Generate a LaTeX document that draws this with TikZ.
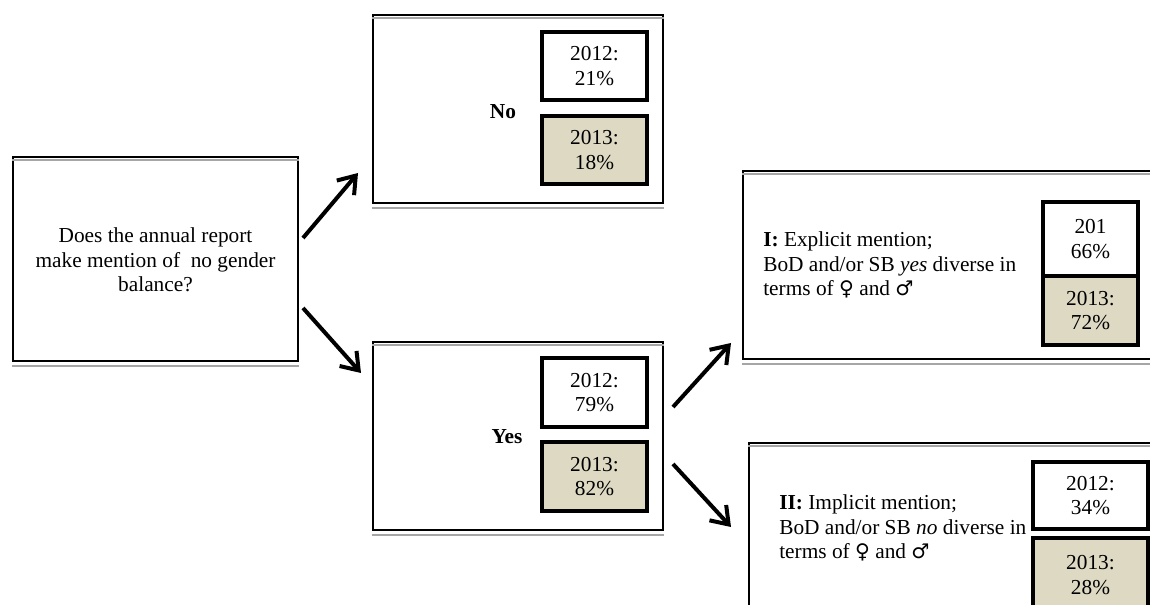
\documentclass[tikz,border=0pt]{standalone}
\usepackage{fontspec}
\setmainfont{Liberation Serif}
\newfontfamily\symf{DejaVu Sans}[Scale=0.95]
\usetikzlibrary{arrows.meta}
\definecolor{tanfill}{HTML}{DDD9C3}
\definecolor{shadeline}{HTML}{A6A6A6}
\newcommand{\fem}{{\symf ♀}}
\newcommand{\mal}{{\symf ♂}}
\tikzset{
  bigbox/.style={draw=black, line width=1.6pt, fill=white, inner sep=0pt},
  pctbox/.style={draw=black, line width=3pt, inner sep=0pt, align=center,
                 font=\fontsize{16}{18.5}\selectfont},
  pctwhite/.style={pctbox, fill=white},
  pcttan/.style={pctbox, fill=tanfill},
  shadow/.style={draw=shadeline, line width=1.4pt},
  arr/.style={line width=3pt, -{Straight Barb[length=12pt,width=17pt]}},
  txt/.style={font=\fontsize{16}{18.5}\selectfont, inner sep=0pt},
  lbl/.style={font=\fontsize{16}{18.5}\selectfont\bfseries, inner sep=0pt}
}
\begin{document}
\begin{tikzpicture}[x=0.75pt,y=-0.75pt]
\useasboundingbox (0,0) rectangle (1150,605);

% question box
\node[bigbox, minimum width=213.75pt, minimum height=153pt] (q) at (155.5,259) {};
\node[txt, align=center] (qt) at (155.5,260) {Does the annual report\\make mention of\ \ no gender\\balance?};

% No box
\node[bigbox, minimum width=217.5pt, minimum height=141pt] (no) at (518,109) {};
\node[pctwhite, minimum width=78.75pt, minimum height=51pt] (n12) at (594.5,66) {2012:\\21\%};
\node[pcttan, minimum width=78.75pt, minimum height=51pt] (n13) at (594.5,150) {2013:\\18\%};
\node[lbl] (nol) at (503,112) {No};

% Yes box
\node[bigbox, minimum width=217.5pt, minimum height=141pt] (yes) at (518,436) {};
\node[pctwhite, minimum width=78.75pt, minimum height=51.75pt] (y12) at (594.5,392.5) {2012:\\79\%};
\node[pcttan, minimum width=78.75pt, minimum height=51.75pt] (y13) at (594.5,476.5) {2013:\\82\%};
\node[lbl] (yesl) at (507,437) {Yes};

% Box I
\node[bigbox, minimum width=316.5pt, minimum height=141pt] (b1) at (954,265) {};
\node[txt, anchor=west, align=left] (b1t) at (763,265)
  {\textbf{I:} Explicit mention;\\BoD and/or SB \textit{yes} diverse in\\terms of \fem{} and \mal};
\node[pctwhite, minimum width=71.25pt, minimum height=55.5pt] (i12) at (1090.5,239) {201\\66\%};
\node[pcttan, minimum width=71.25pt, minimum height=51.75pt] (i13) at (1090.5,310.5) {2013:\\72\%};

% Box II
\node[bigbox, minimum width=312pt, minimum height=141pt] (b2) at (957,537) {};
\node[txt, anchor=west, align=left] (b2t) at (779,528)
  {\textbf{II:} Implicit mention;\\BoD and/or SB \textit{no} diverse in\\terms of \fem{} and \mal};
\node[pctwhite, minimum width=86.25pt, minimum height=50.25pt] (ii12) at (1090.5,495.5) {2012:\\34\%};
\node[pcttan, minimum width=86.25pt, minimum height=55.5pt] (ii13) at (1090.5,575) {2013:\\28\%};

% shadow lines
\foreach \b in {q,no,yes,b1,b2}{
  \draw[shadow] ([yshift=-3pt]\b.north west) -- ([yshift=-3pt]\b.north east);
  \draw[shadow] ([yshift=-3pt]\b.south west) -- ([yshift=-3pt]\b.south east);
}

% arrows
\coordinate (a1s) at (303,238); \coordinate (a1e) at (358,173);
\coordinate (a2s) at (303,308); \coordinate (a2e) at (361,373);
\coordinate (a3s) at (673,407); \coordinate (a3e) at (731,343);
\coordinate (a4s) at (673,464); \coordinate (a4e) at (731,527);
\draw[arr] (a1s) -- (a1e);
\draw[arr] (a2s) -- (a2e);
\draw[arr] (a3s) -- (a3e);
\draw[arr] (a4s) -- (a4e);
\end{tikzpicture}
\end{document}
